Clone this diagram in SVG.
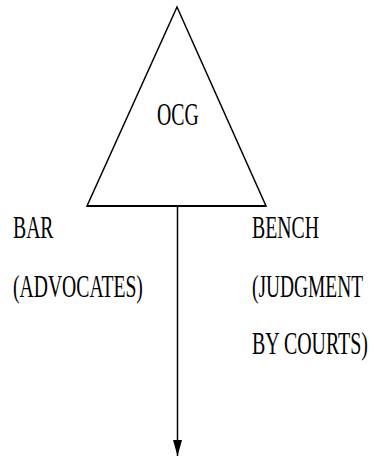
<svg xmlns="http://www.w3.org/2000/svg" width="375" height="459" viewBox="0 0 375 459">
<style>
.t{font-family:"Liberation Serif","Times New Roman",serif;font-size:32px;fill:#000}
.ln{stroke:#000;stroke-width:1.5;fill:none}
</style>
<defs>
<marker id="ah" markerWidth="16" markerHeight="10" refX="16" refY="4.5" orient="auto" markerUnits="userSpaceOnUse" viewBox="0 0 16 9">
<polygon points="0,0 16,4.5 0,9" fill="#000"/>
</marker>
</defs>
<rect width="375" height="459" fill="#fff"/>
<g id="ocg">
<polygon class="ln" points="177,7 87,206 266,206"/>
<line x1="87" y1="206" x2="266" y2="206" stroke="#000" stroke-width="2"/>
<text class="t" transform="translate(157,124.5) scale(0.619,1)">OCG</text>
</g>
<g id="connectors">
<line class="ln" x1="177.5" y1="206" x2="177.5" y2="456" marker-end="url(#ah)"/>
</g>
<g id="bar">
<text class="t" transform="translate(13,238) scale(0.616,1)">BAR</text>
<text class="t" transform="translate(13,297) scale(0.614,1)">(ADVOCATES)</text>
</g>
<g id="bench">
<text class="t" transform="translate(252,238) scale(0.618,1)">BENCH</text>
<text class="t" transform="translate(252,297) scale(0.607,1)">(JUDGMENT</text>
<text class="t" transform="translate(252,354) scale(0.623,1)">BY COURTS)</text>
</g>
</svg>
